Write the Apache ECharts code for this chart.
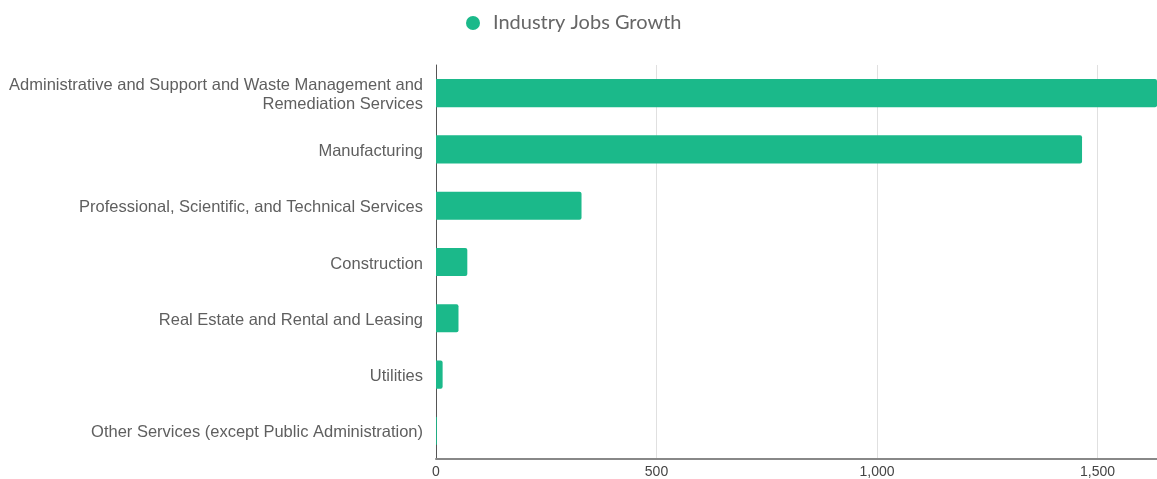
<!DOCTYPE html>
<html>
<head>
<meta charset="utf-8">
<script src="https://cdn.jsdelivr.net/npm/echarts@6/dist/echarts.min.js"></script>
<style>
  html, body { margin: 0; padding: 0; background: #fff; }
  #main { width: 1157px; height: 479px; }
</style>
</head>
<body>
<div id="main"></div>
<script>
var industries = [
    'Administrative and Support and Waste Management and Remediation Services',
    'Manufacturing',
    'Professional, Scientific, and Technical Services',
    'Construction',
    'Real Estate and Rental and Leasing',
    'Utilities',
    'Other Services (except Public Administration)'
];
var jobsGrowth = [1635, 1465, 330, 71, 51, 15, 2];
var seriesName = 'Industry Jobs Growth';

// wrap long category names on word boundaries
function wrap(text, max) {
    var words = text.split(' ');
    var lines = [], cur = '';
    words.forEach(function(w) {
        if (cur && (cur + ' ' + w).length > max) {
            lines.push(cur);
            cur = w;
        } else {
            cur = cur ? cur + ' ' + w : w;
        }
    });
    lines.push(cur);
    return lines.map(function(l) { return '{t|' + l + '}'; }).join('\n');
}

var myChart = echarts.init(document.getElementById('main'));
var option = {
    animation: false,
    color: ['#1bb98a'],
    legend: {
        top: 8,
        left: 461,
        icon: 'circle',
        itemWidth: 14,
        itemHeight: 14,
        textStyle: { fontFamily: 'Lato', fontSize: 20, color: '#666', padding: [0, 0, 0, 8] },
        data: [seriesName]
    },
    grid: { left: 436, right: 0, top: 65, bottom: 20, containLabel: false },
    xAxis: {
        type: 'value',
        min: 0,
        max: 'dataMax',
        interval: 500,
        axisLine: { show: true, lineStyle: { color: '#888', width: 2 } },
        axisTick: { show: false },
        splitLine: { lineStyle: { color: '#e0e0e0' } },
        axisLabel: {
            fontFamily: 'Liberation Sans', fontSize: 14, color: '#444', margin: 6,
            showMaxLabel: false,
            formatter: function(v) { return v.toLocaleString('en-US'); }
        }
    },
    yAxis: {
        type: 'category',
        inverse: true,
        data: industries,
        axisLine: { show: true, lineStyle: { color: '#555', width: 1 } },
        axisTick: { show: false },
        axisLabel: {
            margin: 13,
            formatter: function(v) { return wrap(v, 52); },
            rich: {
                t: {
                    fontFamily: 'Liberation Sans', fontSize: 16.5, color: '#5f5f5f',
                    lineHeight: 19, padding: [4, 0, 0, 0]
                }
            }
        }
    },
    series: [{
        name: seriesName,
        type: 'bar',
        barWidth: '50%',
        itemStyle: { borderRadius: [0, 2, 2, 0] },
        data: jobsGrowth
    }]
};
myChart.setOption(option);
</script>
</body>
</html>
